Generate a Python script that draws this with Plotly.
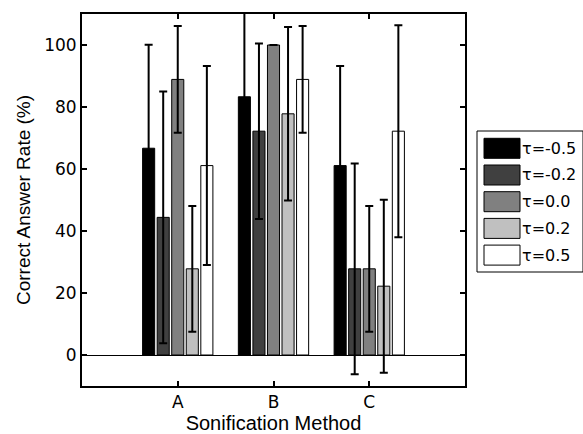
import plotly.graph_objects as go

categories = ["A", "B", "C"]
series_names = ["τ=-0.5", "τ=-0.2", "τ=0.0", "τ=0.2", "τ=0.5"]

rate_tm05 = [66.7, 83.3, 61.1]
rate_tm02 = [44.4, 72.2, 27.8]
rate_t00 = [88.9, 100.0, 27.8]
rate_t02 = [27.8, 77.8, 22.2]
rate_t05 = [61.1, 88.9, 72.2]

err_tm05 = [33.4, 30.0, 32.1]
err_tm02 = [40.6, 28.3, 34.0]
err_t00 = [17.2, 0.0, 20.3]
err_t02 = [20.3, 28.0, 27.9]
err_t05 = [32.1, 17.2, 34.2]

y_ticks = [0, 20, 40, 60, 80, 100]

rates = [rate_tm05, rate_tm02, rate_t00, rate_t02, rate_t05]
errs = [err_tm05, err_tm02, err_t00, err_t02, err_t05]
colors = ["#000000", "#404040", "#808080", "#c0c0c0", "#ffffff"]

fig = go.Figure()
for name, vals, err, col in zip(series_names, rates, errs, colors):
    fig.add_trace(go.Bar(
        x=categories, y=vals, name=name,
        marker=dict(color=col, line=dict(color="#000000", width=1)),
        error_y=dict(type="data", array=err, visible=True,
                     color="#000000", thickness=2, width=4),
        showlegend=False,
    ))

FONT = "Liberation Sans, Arial, sans-serif"
TICKFONT = "DejaVu Sans, sans-serif"

fig.update_layout(
    width=583, height=434,
    margin=dict(l=82, r=118, t=14, b=48, pad=0, autoexpand=False),
    plot_bgcolor="#ffffff", paper_bgcolor="#ffffff",
    barmode="group", bargap=0.24, bargroupgap=0.17,
    font=dict(family=FONT, size=15, color="#000000"),
)
fig.update_xaxes(
    type="category", range=[-1, 3], automargin=False,
    showline=True, linecolor="#000000", linewidth=2, mirror="ticks",
    ticks="inside", ticklen=5, tickwidth=2, tickcolor="#000000",
    tickfont=dict(family=TICKFONT, size=17),
    title=dict(text="Sonification Method", font=dict(family=FONT, size=20), standoff=0),
    showgrid=False,
)
fig.update_yaxes(
    range=[-10, 110], tickvals=y_ticks, automargin=False,
    showline=True, linecolor="#000000", linewidth=2, mirror="ticks",
    ticks="inside", ticklen=5, tickwidth=2, tickcolor="#000000",
    tickfont=dict(family=TICKFONT, size=17),
    title=dict(text="Correct Answer Rate (%)", font=dict(family=FONT, size=19), standoff=8),
    showgrid=False,
    zeroline=True, zerolinecolor="#000000", zerolinewidth=1,
)

# manual legend (paper coordinates) built from series names/colors
plot_l, plot_r, plot_t, plot_b = 82, 465, 14, 386
def px_x(p):
    return (p - plot_l) / (plot_r - plot_l)
def px_y(p):
    return (plot_b - p) / (plot_b - plot_t)

fig.add_shape(type="rect", xref="paper", yref="paper",
              x0=px_x(477), x1=px_x(583), y0=px_y(272), y1=px_y(131),
              line=dict(color="#000000", width=1), fillcolor="#ffffff")
row0, step = 148.3, 26.7
for i, (name, col) in enumerate(zip(series_names, colors)):
    cy = row0 + i * step
    fig.add_shape(type="rect", xref="paper", yref="paper",
                  x0=px_x(484), x1=px_x(520), y0=px_y(cy + 10), y1=px_y(cy - 10),
                  line=dict(color="#000000", width=1), fillcolor=col)
    fig.add_annotation(xref="paper", yref="paper", x=px_x(520), y=px_y(cy),
                       text=name, showarrow=False, xanchor="left", yanchor="middle",
                       font=dict(family=TICKFONT, size=16, color="#000000"))

fig.write_html("out.html", config={"displayModeBar": False},
               post_script="document.body.style.margin='0';document.body.style.overflow='hidden';")
